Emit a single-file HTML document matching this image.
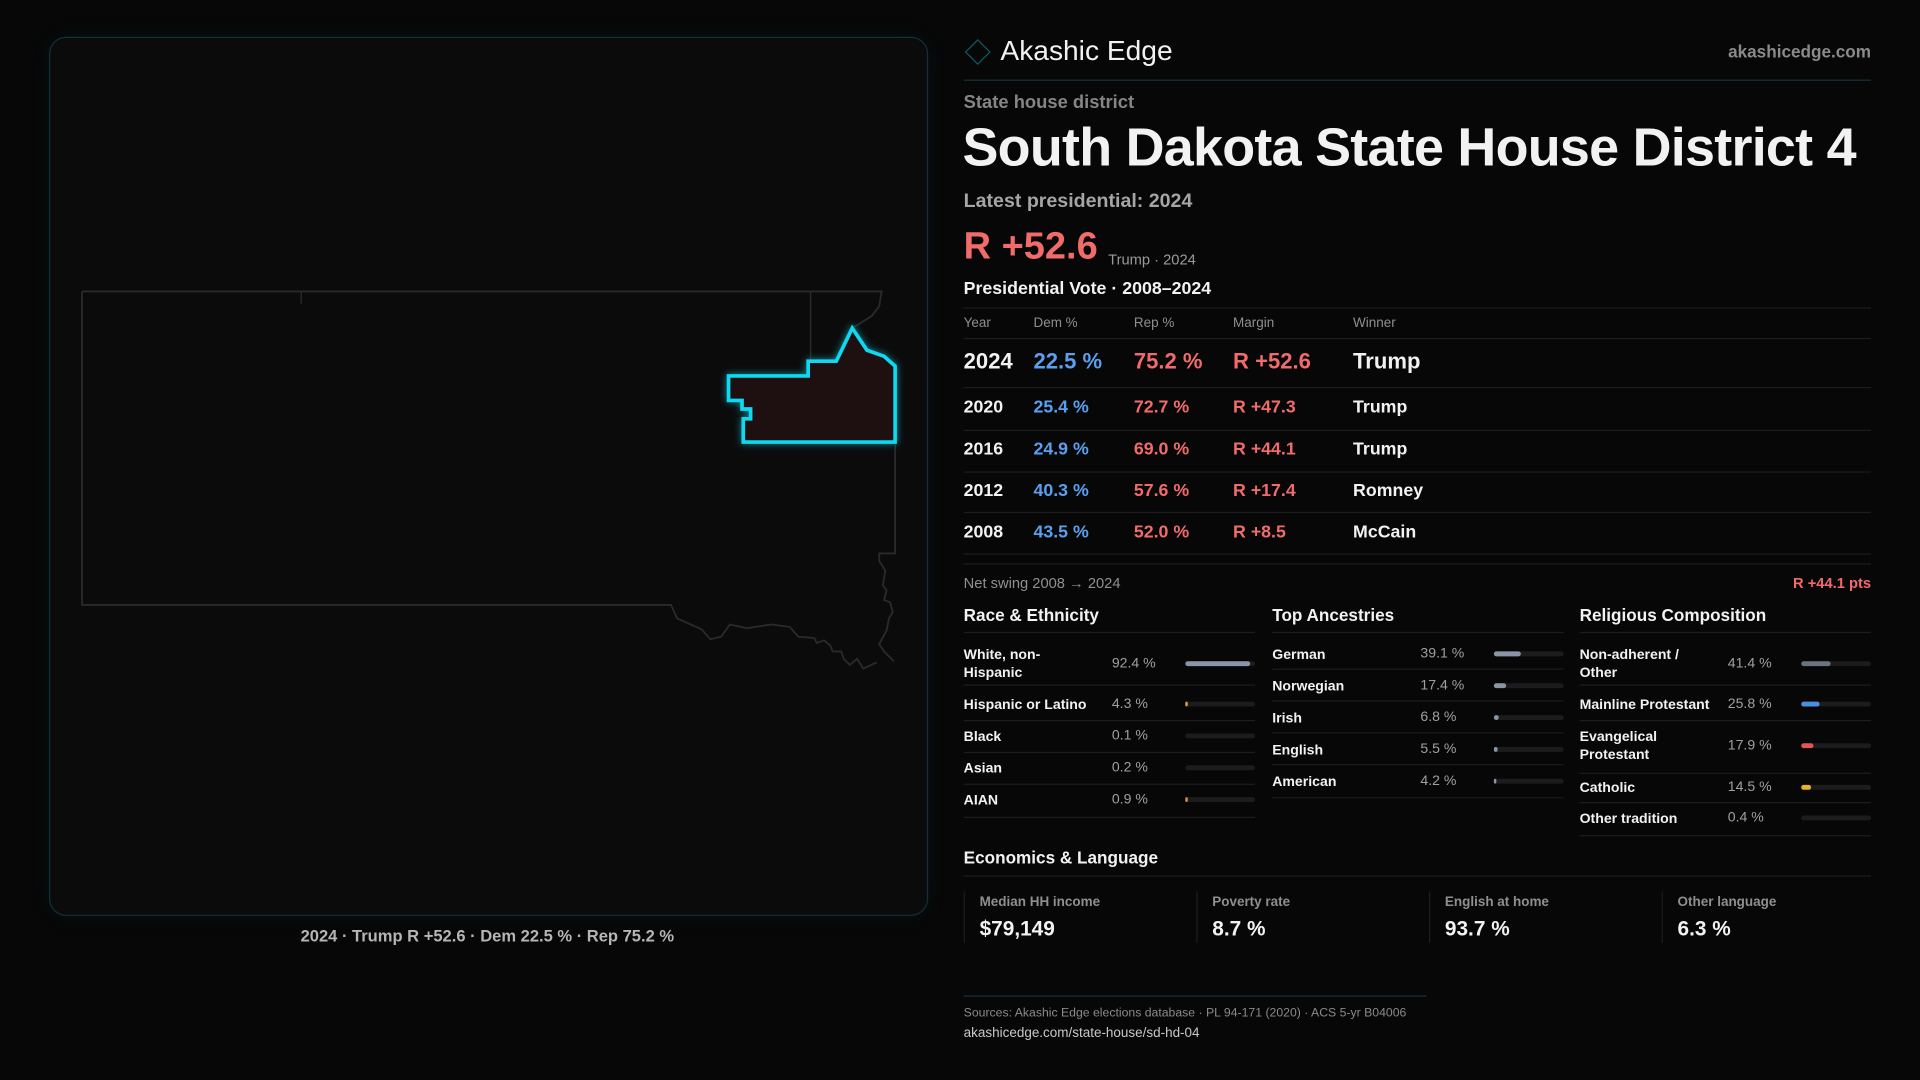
<!DOCTYPE html>
<html><head><meta charset="utf-8">
<style>
html,body{margin:0;padding:0;background:#070707;overflow:hidden;}
#wrap{position:absolute;left:0;top:0;width:1568px;height:882px;transform:scale(1.22449);transform-origin:0 0;font-family:"Liberation Sans",sans-serif;color:#f2f2f2;}
.a{position:absolute;white-space:nowrap;}
.ln{position:absolute;height:1px;background:#1d1d1d;}
.g{color:#8f8f8f;}
</style></head><body>
<div id="wrap">
<div class="a" style="left:40px;top:30px;width:716px;height:716px;border:1px solid #12303a;border-radius:14px;background:#0b0b0c;box-shadow:0 0 18px rgba(0,180,220,0.06);"></div>
<svg class="a" style="left:0;top:0" width="1568" height="882" viewBox="0 0 1568 882">
<path fill="none" stroke="#2a2a2a" stroke-width="1.5" d="M67,238 L720,238 L718,250 L712,258 L696,268 M731,300 L731,452 L718,452 L718,458 L723,466 L721,478 L724,482 L722,490 L727,492 L729,500 L726,505 L724,515 L718,526 L722,532 L726,536 L730,540 M67,238 L67,494 L548,494 L553,505 L573,514 L580,522 L589,520 L596,510 L610,513 L630,510 L645,512 L652,520 L665,521 L667,525 L673,523 L678,527 L680,532 L687,532 L689,538 L694,543 L700,538 L705,546 L716,541"/>
<path fill="none" stroke="#2a2a2a" stroke-width="1.2" d="M246,238 L246,248 M662,238 L662,300"/>
<path fill="#1e0f10" stroke="#0fd8f0" stroke-width="3" style="filter:drop-shadow(0 0 3px rgba(15,216,240,0.6))" d="M595,307 L660,307 L660,295 L683,295 L696,268 L708,286 L722,291 L731,299 L731,361 L607,361 L607,342 L613,342 L613,334 L606,334 L606,327 L595,327 Z"/>
</svg>
<div class="a" style="left:40px;width:716px;text-align:center;top:757px;font-size:13.5px;color:#b5b5b5;font-weight:bold;">2024 · Trump R +52.6 · Dem 22.5 % · Rep 75.2 %</div>

<div class="a" style="left:791px;top:35px;width:13px;height:13px;border:1.5px solid #0f5a66;transform:rotate(45deg);"></div>
<div class="a" style="left:817px;top:28px;font-size:23px;">Akashic Edge</div>
<div class="a g" style="right:40px;top:34px;font-size:14px;font-weight:bold;color:#8a8a8a;">akashicedge.com</div>
<div class="ln" style="left:787px;width:741px;top:65px;background:#12333a;"></div>
<div class="a g" style="left:787px;top:75px;font-size:15px;font-weight:bold;color:#858585;">State house district</div>
<div class="a" style="left:786px;top:96px;font-size:44px;font-weight:bold;letter-spacing:-0.6px;">South Dakota State House District 4</div>
<div class="a" style="left:787px;top:156px;font-size:16px;font-weight:bold;color:#a5a5a5;">Latest presidential: 2024</div>
<div class="a" style="left:787px;top:183px;font-size:31px;color:#f26b6b;font-weight:bold;">R +52.6</div>
<div class="a" style="left:905px;top:205px;font-size:12px;color:#9a9a9a;">Trump · 2024</div>
<div class="a" style="left:787px;top:228px;font-size:14.5px;font-weight:bold;">Presidential Vote · 2008–2024</div>
<div id="vt"></div>

<div class="a g" style="left:787px;top:469px;font-size:12px;">Net swing 2008 → 2024</div>
<div class="a" style="right:40px;top:469px;font-size:12px;color:#f26b6b;font-weight:bold;">R +44.1 pts</div>
<div id="demo"></div>

<div class="a" style="left:787px;top:692px;font-size:14px;font-weight:bold;">Economics &amp; Language</div>
<div class="ln" style="left:787px;width:741px;top:715px;"></div>
<div id="econ"></div>

<div class="ln" style="left:787px;width:378px;top:813px;background:#12333a;"></div>
<div class="a" style="left:787px;top:822px;font-size:10px;color:#8a8a8a;">Sources: Akashic Edge elections database · PL 94-171 (2020) · ACS 5-yr B04006</div>
<div class="a" style="left:787px;top:838px;font-size:11px;color:#c8c8c8;">akashicedge.com/state-house/sd-hd-04</div>
</div>
<script>
const years=["2024","2020","2016","2012","2008"];
const demVals=[22.5,25.4,24.9,40.3,43.5];
const repVals=[75.2,72.7,69.0,57.6,52.0];
const margins=[52.6,47.3,44.1,17.4,8.5];
const winners=["Trump","Trump","Trump","Romney","McCain"];
const raceLabels=["White, non-\nHispanic","Hispanic or Latino","Black","Asian","AIAN"];
const raceVals=[92.4,4.3,0.1,0.2,0.9];
const ancLabels=["German","Norwegian","Irish","English","American"];
const ancVals=[39.1,17.4,6.8,5.5,4.2];
const relLabels=["Non-adherent /\nOther","Mainline Protestant","Evangelical\nProtestant","Catholic","Other tradition"];
const relVals=[41.4,25.8,17.9,14.5,0.4];
const econLabels=["Median HH income","Poverty rate","English at home","Other language"];
const econVals=["$79,149","8.7 %","93.7 %","6.3 %"];
const W=document.getElementById('wrap');
function mk(cls,style,txt){const d=document.createElement('div');d.className=cls;d.style.cssText=style;if(txt!=null)d.textContent=txt;W.appendChild(d);return d;}
let l=mk('ln','left:787px;width:741px;top:251px;');


const hx=[787,844,926,1007,1105],hn=["Year","Dem %","Rep %","Margin","Winner"];
hn.forEach((h,i)=>{const d=mk('a g',`left:${hx[i]}px;top:258px;font-size:11px;`,h);

});
l=mk('ln','left:787px;width:741px;top:276px;');


const rowY=[296,334,368,402,436],ruleY=[316,351,385,418,452];
years.forEach((y,i)=>{const fs=i==0?18:14.5,t=rowY[i]-fs*0.6;
const mt=(margins[i]>=0?"R +":"D +")+Math.abs(margins[i]).toFixed(1);
const cells=[[y,'#f2f2f2'],[demVals[i].toFixed(1)+' %','#5aa0f0'],[repVals[i].toFixed(1)+' %','#f26b6b'],[mt,'#f26b6b'],[winners[i],'#f2f2f2']];
cells.forEach((c,j)=>{const d=mk('a',`left:${hx[j]}px;top:${t}px;font-size:${fs}px;font-weight:bold;color:${c[1]};`,c[0]);

});
const r=mk('ln',`left:787px;width:741px;top:${ruleY[i]}px;`);

});
l=mk('ln','left:787px;width:741px;top:460px;');


function col(x,title,labels,vals,colors,ys,rules){
 const t=mk('a',`left:${x}px;top:494px;font-size:14px;font-weight:bold;`,title);
 
 
 const r0=mk('ln',`left:${x}px;width:238px;top:516px;`);
 
 
 labels.forEach((lb,i)=>{const two=lb.includes('\n');
  const d=mk('a',`left:${x}px;top:${ys[i]-(two?14:6.5)}px;font-size:11.5px;font-weight:bold;line-height:15px;white-space:pre;`,lb);
  
  
  const v=mk('a',`left:${x+121}px;top:${ys[i]-6}px;font-size:11.5px;color:#a0a0a0;`,vals[i].toFixed(1)+' %');
  
  
  const tr=mk('a',`left:${x+181}px;top:${ys[i]-2}px;width:57px;height:4px;border-radius:2px;background:#1c1c1e;`);
  
  
  const f=mk('a',`left:${x+181}px;top:${ys[i]-2}px;width:${vals[i]>0.5?Math.max(2,57*vals[i]/100):0}px;height:4px;border-radius:2px;background:${colors[i]};`);
  
  
  const rl=mk('ln',`left:${x}px;width:238px;top:${rules[i]}px;`);
  
  });
}
col(787,"Race & Ethnicity",raceLabels,raceVals,["#8a96a8","#e0a030","#555","#555","#e0902a"],[542,575,601,627,653],[559,588,614,640,667]);
col(1039,"Top Ancestries",ancLabels,ancVals,["#8a96a8","#8a96a8","#8a96a8","#8a96a8","#8a96a8"],[534,560,586,612,638],[546,572,598,624,651]);
col(1290,"Religious Composition",relLabels,relVals,["#6b7280","#4a90e2","#e05555","#e6b422","#555"],[542,575,609,643,668],[559,588,631,655,682]);
econLabels.forEach((lb,i)=>{const x=787+i*190;
 const s=mk('a',`left:${x}px;top:728px;width:1px;height:42px;background:#1d1d1d;`);
 
 
 const a=mk('a',`left:${x+13}px;top:731px;font-size:11px;color:#8f8f8f;font-weight:bold;`,lb);
 
 
 const b=mk('a',`left:${x+13}px;top:749px;font-size:17px;font-weight:bold;`,econVals[i]);
 
 });
</script>
</body></html>
